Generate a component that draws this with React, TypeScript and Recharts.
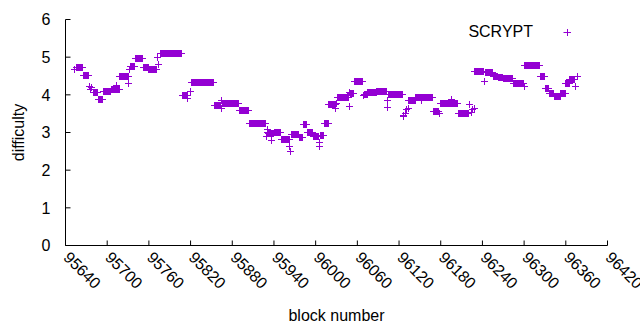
import React from "react";
import { ScatterChart, Scatter, XAxis, YAxis } from "recharts";

// runs of consecutive blocks sharing one difficulty value
const runStart = [
  95653, 95656, 95666, 95674, 95676, 95678, 95680, 95687, 95694, 95706, 95714, 95715,
  95718, 95731, 95732, 95733, 95741, 95752, 95760, 95773, 95774, 95777, 95809, 95816,
  95820, 95822, 95854, 95864, 95865, 95866, 95890, 95905, 95929, 95930, 95931, 95932,
  95936, 95937, 95941, 95951, 95963, 95964, 95965, 95977, 95982, 95988, 95997, 96005,
  96006, 96007, 96013, 96019, 96029, 96030, 96031, 96048, 96049, 96050, 96056, 96069,
  96070, 96075, 96088, 96103, 96104, 96105, 96126, 96127, 96129, 96131, 96133, 96134,
  96144, 96153, 96154, 96170, 96178, 96179, 96195, 96196, 96206, 96222, 96224, 96226,
  96228, 96229, 96243, 96244, 96256, 96263, 96270, 96285, 96300, 96301, 96323, 96331,
  96336, 96344, 96353, 96360, 96366, 96374, 96377,
];
const runEnd = [
  95653, 95665, 95673, 95674, 95676, 95678, 95686, 95693, 95705, 95713, 95714, 95717,
  95730, 95731, 95732, 95739, 95751, 95759, 95771, 95773, 95774, 95807, 95815, 95816,
  95820, 95853, 95863, 95864, 95865, 95889, 95904, 95928, 95929, 95930, 95931, 95935,
  95936, 95940, 95950, 95962, 95963, 95964, 95976, 95981, 95987, 95996, 96004, 96005,
  96006, 96012, 96018, 96028, 96029, 96030, 96047, 96048, 96049, 96055, 96068, 96069,
  96074, 96087, 96102, 96103, 96104, 96125, 96126, 96127, 96129, 96131, 96133, 96143,
  96152, 96153, 96168, 96177, 96178, 96194, 96195, 96204, 96220, 96222, 96224, 96226,
  96228, 96242, 96243, 96255, 96262, 96269, 96284, 96299, 96300, 96322, 96330, 96335,
  96343, 96352, 96359, 96365, 96373, 96374, 96377,
];
const runValue = [
  4.66, 4.72, 4.52, 4.22, 4.15, 4.2, 4.05, 3.88, 4.1, 4.14, 4.26, 4.14,
  4.49, 4.3, 4.68, 4.75, 4.97, 4.72, 4.66, 5.0, 4.8, 5.1, 3.98, 3.9,
  4.08, 4.33, 3.72, 3.64, 3.86, 3.77, 3.59, 3.24, 2.89, 3.07, 2.99, 2.98,
  2.8, 2.98, 3.01, 2.82, 2.62, 2.5, 2.96, 2.88, 3.2, 3.0, 2.9, 2.73,
  2.64, 2.91, 3.24, 3.74, 3.64, 3.76, 3.94, 4.06, 3.69, 4.04, 4.35, 3.97,
  4.0, 4.05, 4.08, 3.67, 3.84, 4.01, 3.46, 3.43, 3.5, 3.6, 3.64, 3.86,
  3.94, 3.85, 3.94, 3.57, 3.5, 3.78, 3.88, 3.78, 3.51, 3.75, 3.52, 3.6,
  3.65, 4.61, 4.35, 4.58, 4.5, 4.46, 4.43, 4.3, 4.22, 4.78, 4.5, 4.18,
  4.04, 3.95, 4.04, 4.3, 4.42, 4.22, 4.48,
];

const xTicks = [
  95640, 95700, 95760, 95820, 95880, 95940, 96000, 96060, 96120, 96180, 96240, 96300,
  96360, 96420,
];
const yTicks = [0, 1, 2, 3, 4, 5, 6];

const VIOLET = "#9400d3";
const FONT = '"Liberation Sans", Arial, sans-serif';
const FS = 16;

const points = runStart.flatMap((s, i) => {
  const out: { block: number; difficulty: number }[] = [];
  for (let b = s; b <= runEnd[i]; b++) out.push({ block: b, difficulty: runValue[i] });
  return out;
});

// gnuplot style "+" point
const Plus = (props: any) => {
  const x = Math.floor(props.cx) + 0.5;
  const y = Math.floor(props.cy) + 0.5;
  return (
    <path
      d={`M${x - 3.5},${y}H${x + 3.5}M${x},${y - 3.5}V${y + 3.5}`}
      stroke={VIOLET}
      strokeWidth={1}
      fill="none"
    />
  );
};

const XTick = ({ x, y, payload }: any) => (
  <text
    x={x + 1}
    y={y}
    transform={`rotate(45 ${x + 1} ${y})`}
    textAnchor="start"
    dominantBaseline="central"
    fontSize={FS}
    fontFamily={FONT}
    fill="#000"
  >
    {payload.value}
  </text>
);

export default function App() {
  return (
    <div style={{ position: "relative", width: 640, height: 330, background: "#fff" }}>
      <style>{"body{margin:0}"}</style>
      <ScatterChart
        width={640}
        height={330}
        margin={{ top: 19.5, right: 32.5, bottom: 0, left: 0.5 }}
      >
        <XAxis
          dataKey="block"
          type="number"
          domain={[95640, 96420]}
          ticks={xTicks}
          interval={0}
          height={84.5}
          stroke="#000"
          tickSize={-5}
          tickMargin={14}
          tick={<XTick />}
          label={{
            value: "block number",
            position: "insideBottom",
            offset: 9,
            style: { fontSize: FS, fontFamily: FONT, fill: "#000" },
          }}
        />
        <XAxis
          xAxisId="top"
          orientation="top"
          type="number"
          domain={[95640, 96420]}
          ticks={xTicks}
          interval={0}
          height={0}
          stroke="#000"
          tickSize={-5}
          tick={false}
        />
        <YAxis
          dataKey="difficulty"
          type="number"
          domain={[0, 6]}
          ticks={yTicks}
          interval={0}
          width={65}
          stroke="#000"
          tickSize={-5}
          tickMargin={20}
          tick={{ fill: "#000", fontSize: FS, fontFamily: FONT }}
          label={{
            value: "difficulty",
            angle: -90,
            position: "insideLeft",
            offset: 18,
            style: { textAnchor: "middle", fontSize: FS, fontFamily: FONT, fill: "#000" },
          }}
        />
        <YAxis
          yAxisId="right"
          orientation="right"
          type="number"
          domain={[0, 6]}
          ticks={yTicks}
          interval={0}
          width={0}
          stroke="#000"
          tickSize={-5}
          tick={false}
        />
        <Scatter data={points} shape={<Plus />} isAnimationActive={false} />
      </ScatterChart>
      <div
        style={{
          position: "absolute",
          right: 107,
          top: 22,
          fontSize: FS,
          fontFamily: FONT,
          color: "#000",
          lineHeight: "19px",
        }}
      >
        SCRYPT
      </div>
      <svg style={{ position: "absolute", left: 563, top: 28 }} width={9} height={9}>
        <path d="M0.5,4.5H8M4.5,1V8" stroke={VIOLET} strokeWidth={1} fill="none" />
      </svg>
    </div>
  );
}
